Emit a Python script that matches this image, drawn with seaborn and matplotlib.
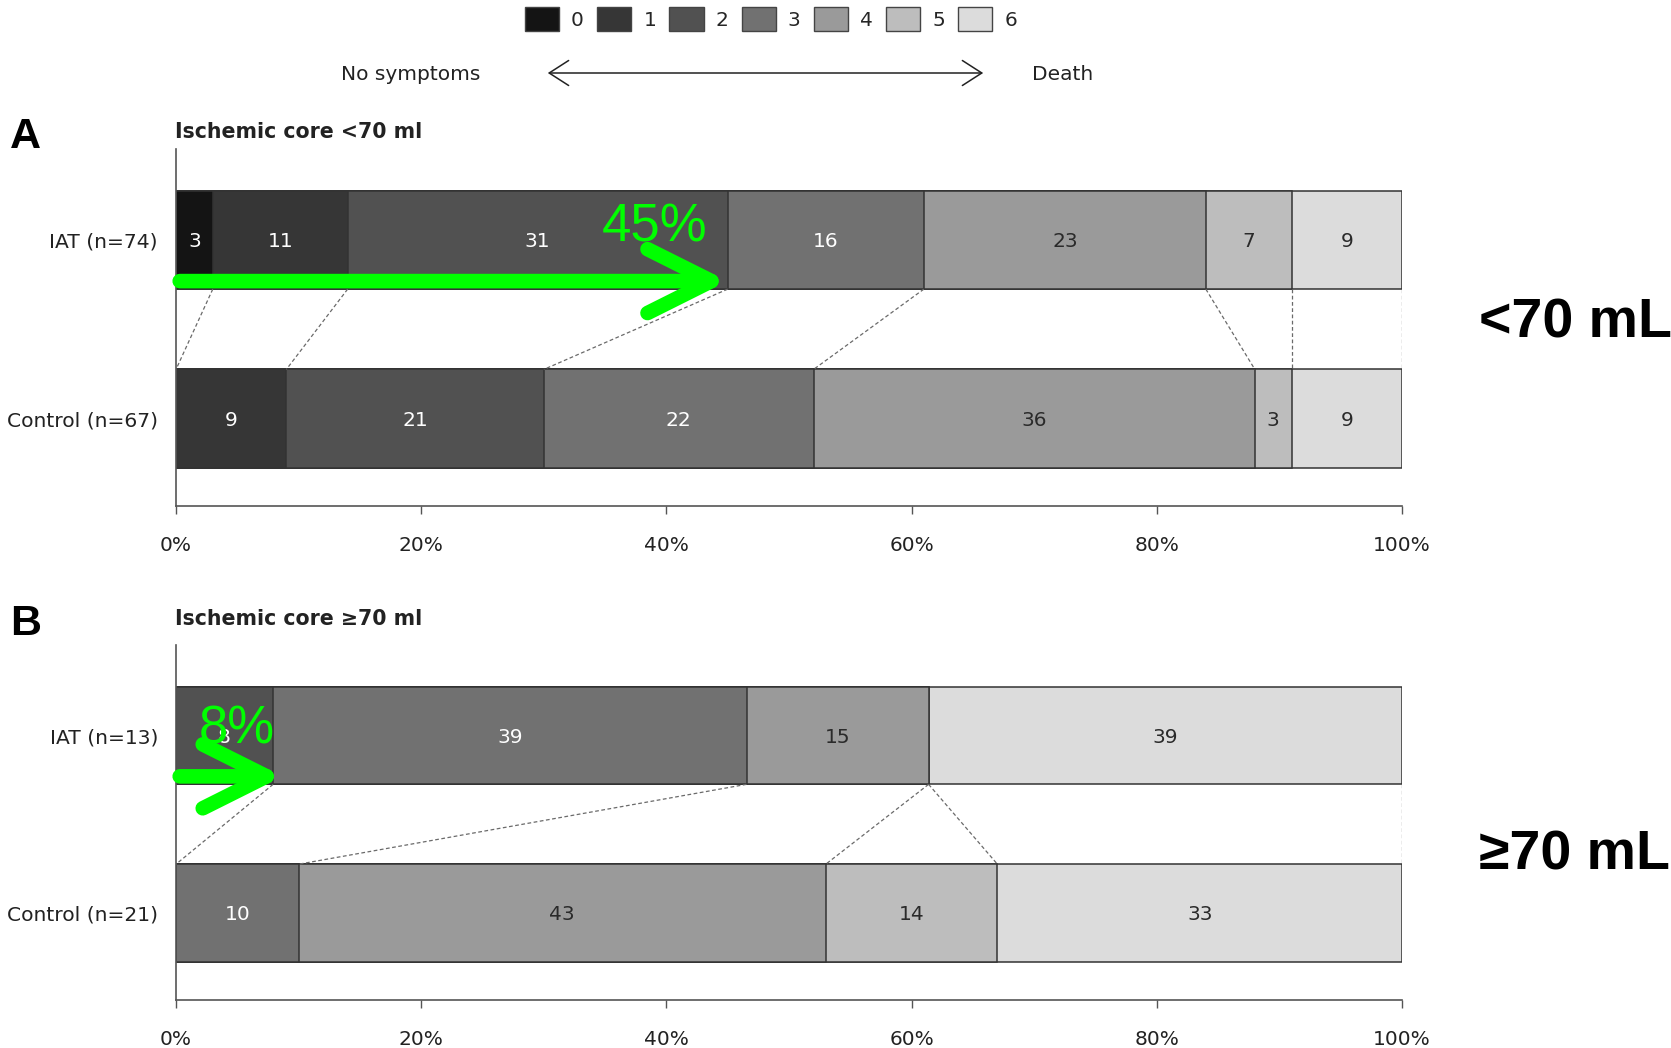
import numpy as np
import pandas as pd
import matplotlib
matplotlib.use("Agg")
import matplotlib.pyplot as plt
import seaborn as sns
from matplotlib.patches import Patch, FancyArrowPatch, ArrowStyle
from matplotlib import font_manager as fm

# ---------------- data ----------------
mrs_categories = ["0", "1", "2", "3", "4", "5", "6"]
group_labels_a = ["IAT (n=74)", "Control (n=67)"]
iat_a = [3, 11, 31, 16, 23, 7, 9]
control_a = [0, 9, 21, 22, 36, 3, 9]
group_labels_b = ["IAT (n=13)", "Control (n=21)"]
iat_b = [0, 0, 8, 39, 15, 0, 39]
control_b = [0, 0, 0, 10, 43, 14, 33]
xtick_values = [0, 20, 40, 60, 80, 100]
xtick_labels = ["0%", "20%", "40%", "60%", "80%", "100%"]
panel_titles = ["Ischemic core <70 ml", "Ischemic core \u226570 ml"]
side_labels = ["<70 mL", "\u226570 mL"]
highlight_labels = ["45%", "8%"]
highlight_upto = [2, 2]   # good outcome = mRS 0-2

grays = ["#141414", "#363636", "#515151", "#717171", "#9a9a9a", "#bdbdbd", "#dcdcdc"]

sns.set_theme(style="white")
names = {f.name for f in fm.fontManager.ttflist}
narrow = "Liberation Sans Narrow" if "Liberation Sans Narrow" in names else "Liberation Sans"
plt.rcParams["font.family"] = ["DejaVu Sans"]

W, H = 1671, 1048
fig = plt.figure(figsize=(W / 100, H / 100), dpi=100)

def fx(px):
    return px / W

def fy(py):
    return 1 - py / H

BAR_W = 0.55
EDGE = "#333333"


def draw_panel(ax, labels, iat, ctrl, title, letter, letter_y, side, side_y, hl_text, hl_upto, hl_text_xy, tip_extra):
    rows = []
    pct = {}
    for lab, vals in zip(labels, [iat, ctrl]):
        v = np.array(vals, dtype=float)
        p = v / v.sum() * 100
        pct[lab] = p
        cum = np.cumsum(p)
        row = {"group": lab}
        for k in range(7):
            row[f"cum{k}"] = cum[k]
        rows.append(row)
    df = pd.DataFrame(rows)
    for k in range(6, -1, -1):
        sns.barplot(data=df, x=f"cum{k}", y="group", order=labels, orient="h",
                    color=grays[k], saturation=1, width=BAR_W, edgecolor=EDGE,
                    linewidth=1.1, errorbar=None, ax=ax)
    # value labels
    for yi, lab in enumerate(labels):
        vals = iat if yi == 0 else ctrl
        p = pct[lab]
        cum = np.cumsum(p)
        for k in range(7):
            if vals[k] > 0:
                xc = cum[k] - p[k] / 2
                ax.text(xc, yi + 0.01, str(vals[k]), ha="center", va="center",
                        fontsize=14.5, color="white" if k <= 3 else "#2a2a2a")
    # dashed connectors
    c_top = np.cumsum(pct[labels[0]])
    c_bot = np.cumsum(pct[labels[1]])
    for k in range(7):
        if c_top[k] < 0.01 and c_bot[k] < 0.01:
            continue
        if k > 0 and abs(c_top[k] - c_top[k - 1]) < 0.01 and abs(c_bot[k] - c_bot[k - 1]) < 0.01:
            continue
        ax.plot([c_top[k], c_bot[k]], [BAR_W / 2, 1 - BAR_W / 2], color="#6a6a6a",
                lw=0.9, ls=(0, (3, 2)), zorder=1)
    ax.set_xlim(0, 100)
    ax.set_ylim(1.49, -0.51)
    ax.set_xticks(xtick_values)
    ax.set_xticklabels(xtick_labels)
    ax.set_xlabel("")
    ax.set_ylabel("")
    for s in ["top", "right"]:
        ax.spines[s].set_visible(False)
    for s in ["left", "bottom"]:
        ax.spines[s].set_color("#555555")
        ax.spines[s].set_linewidth(1.2)
    ax.tick_params(axis="x", direction="out", length=6, width=1, color="#555555",
                   pad=15.5, labelsize=14.5, labelcolor="#222222", bottom=True)
    ax.tick_params(axis="y", length=0, pad=13, labelsize=14.6, labelcolor="#222222")
    ax.set_title("")
    # panel title and letter
    fig.text(fx(175), fy(letter_y), title, ha="left", va="center", fontsize=14.8,
             fontweight="bold", color="#222222")
    fig.text(fx(10), fy(letter_y + 5), letter, ha="left", va="center", fontsize=31,
             fontweight="bold", family="Liberation Sans", color="black")
    fig.text(fx(1479), fy(side_y), side, ha="left", va="center", fontsize=40,
             fontweight="bold", family="Liberation Sans", color="black")
    # green highlight arrow
    tip = np.cumsum(pct[labels[0]])[hl_upto] + tip_extra
    y_arrow = BAR_W / 2 - 0.045
    arr = FancyArrowPatch((0.3, y_arrow), (tip, y_arrow),
                          arrowstyle=ArrowStyle("->", head_length=1.0, head_width=0.5),
                          mutation_scale=46, lw=10.5, color="#00ff00",
                          shrinkA=0, shrinkB=0, capstyle="round", joinstyle="round",
                          clip_on=False, zorder=10)
    ax.add_patch(arr)
    fig.text(fx(hl_text_xy[0]), fy(hl_text_xy[1]), hl_text, ha="center", va="center",
             fontsize=38, family=narrow, color="#00ff00", zorder=11)


ax_a = fig.add_axes([fx(176), fy(506), fx(1402 - 176), (506 - 149) / H])
ax_b = fig.add_axes([fx(176), fy(1000), fx(1402 - 176), (1000 - 645) / H])

draw_panel(ax_a, group_labels_a, iat_a, control_a, panel_titles[0], "A", 132,
           side_labels[0], 323, highlight_labels[0], highlight_upto[0], (655, 228), 0.0)
draw_panel(ax_b, group_labels_b, iat_b, control_b, panel_titles[1], "B", 619,
           side_labels[1], 856, highlight_labels[1], highlight_upto[1], (237, 730), 0.8)

# legend
handles = [Patch(facecolor=c, edgecolor="#444444", linewidth=1, label=l)
           for c, l in zip(grays, mrs_categories)]
fig.legend(handles=handles, ncol=7, loc="center", bbox_to_anchor=(fx(771), fy(19)),
           frameon=False, fontsize=14.5, handlelength=1.7, handleheight=1.5,
           handletextpad=0.6, columnspacing=0.65, borderaxespad=0, borderpad=0)

# No symptoms <-> Death
fig.text(fx(411), fy(74), "No symptoms", ha="center", va="center", fontsize=14.5, color="#222222")
fig.text(fx(1063), fy(74), "Death", ha="center", va="center", fontsize=14.5, color="#222222")
fig.add_artist(FancyArrowPatch((fx(545), fy(73)), (fx(986), fy(73)), transform=fig.transFigure,
                               arrowstyle=ArrowStyle("<->", head_length=0.7, head_width=0.45),
                               mutation_scale=20, lw=1.1, color="#222222"))

fig.savefig("out.png", dpi=100)
